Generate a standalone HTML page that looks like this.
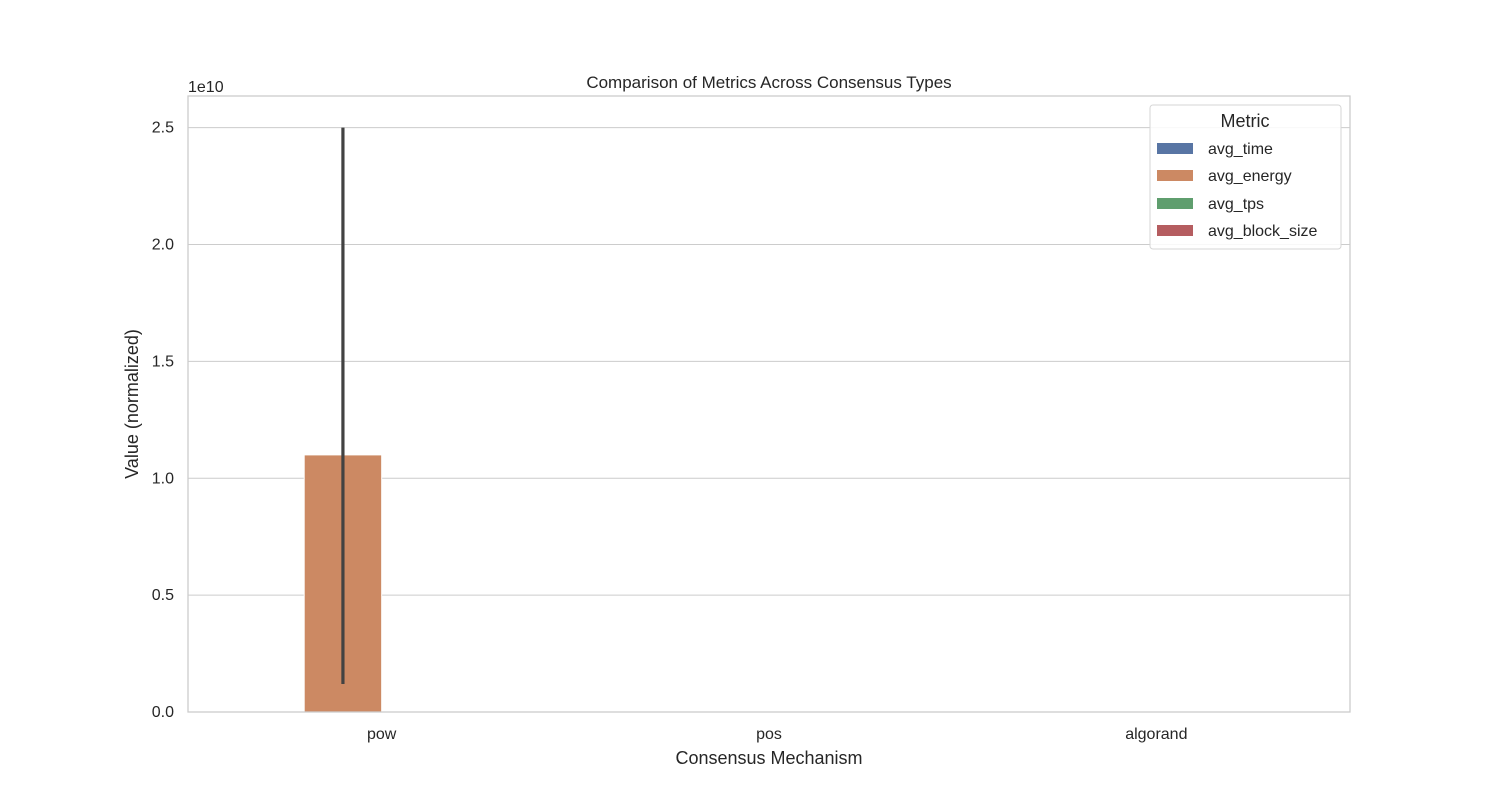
<!DOCTYPE html>
<html><head><meta charset="utf-8"><style>
body{margin:0;background:#fff;font-family:"Liberation Sans",sans-serif;}
svg text{font-family:"Liberation Sans",sans-serif;fill:#262626;}
</style></head><body>
<svg id="chart" width="1500" height="800"></svg>
<script>
const categories=["pow","pos","algorand"];
const metrics=["avg_time","avg_energy","avg_tps","avg_block_size"];
const colors=["#5875a4","#cc8963","#5f9e6e","#b55d60"];
const avgTime=[0,0,0];
const avgEnergy=[1.1e10,0,0];
const avgTps=[0,0,0];
const avgBlock=[0,0,0];
const errLow=[1.2e9,0,0];
const errHigh=[2.5e10,0,0];
const yTicks=[0,0.5e10,1.0e10,1.5e10,2.0e10,2.5e10];
const yTickLabels=["0.0","0.5","1.0","1.5","2.0","2.5"];
const series=[avgTime,avgEnergy,avgTps,avgBlock];

const NS="http://www.w3.org/2000/svg";
const svg=document.getElementById('chart');
const L=188,R=1350,T=96,B=712;
const yMax=2.6355e10;
const ys=v=>B-(v/yMax)*(B-T);
const xs=u=>L+(u+0.5)/3*(R-L);
function el(tag,attrs,parent){const e=document.createElementNS(NS,tag);for(const k in attrs)e.setAttribute(k,attrs[k]);(parent||svg).appendChild(e);return e;}

yTicks.forEach((t,i)=>{
 const g=el('line',{x1:L,x2:R,y1:ys(t),y2:ys(t),stroke:'#cccccc','stroke-width':1});
 
 
 const tx=el('text',{x:L-14,y:ys(t)+5,'text-anchor':'end','font-size':16});
 tx.textContent=yTickLabels[i];
 
 
});
categories.forEach((c,i)=>{
 const tx=el('text',{x:xs(i),y:739,'text-anchor':'middle','font-size':16});
 tx.textContent=c;
 
 
});
series.forEach((s,h)=>{
 s.forEach((v,i)=>{
  const x0=xs(i-0.4+0.2*h);const x1=xs(i-0.2+0.2*h);
  if(v<=0)return;
  const r=el('rect',{x:x0,y:ys(v),width:x1-x0,height:B-ys(v),fill:colors[h],stroke:'#fff','stroke-width':1});
  
  
 });
});
series.forEach((s,h)=>{
 s.forEach((v,i)=>{
  if(h!==1||errHigh[i]<=0)return;
  const cx=xs(i-0.3+0.2*h);
  const e=el('line',{x1:cx,x2:cx,y1:ys(errLow[i]),y2:ys(errHigh[i]),stroke:'#424242','stroke-width':3.2});
  
  
 });
});
const frame=el('rect',{x:L,y:T,width:R-L,height:B-T,fill:'none',stroke:'#cccccc','stroke-width':1.3});


</script>
<div style="position:absolute;left:0;top:0;width:1500px;height:800px;pointer-events:none">
<svg width="1500" height="800">
<text x="769" y="88" text-anchor="middle" font-size="17">Comparison of Metrics Across Consensus Types</text>
<text x="188" y="92" font-size="16">1e10</text>
<text x="769" y="764" text-anchor="middle" font-size="18">Consensus Mechanism</text>
<text transform="translate(138,404) rotate(-90)" text-anchor="middle" font-size="18">Value (normalized)</text>
<g>
<rect x="1150" y="105" width="191" height="144" rx="3" fill="#fff" fill-opacity="0.85" stroke="#d6d6d6"/>
<text x="1245" y="127" text-anchor="middle" font-size="18">Metric</text>
<rect x="1157" y="143" width="36" height="11" fill="#5875a4"/>
<text x="1208" y="154" font-size="16">avg_time</text>
<rect x="1157" y="170" width="36" height="11" fill="#cc8963"/>
<text x="1208" y="181" font-size="16">avg_energy</text>
<rect x="1157" y="198" width="36" height="11" fill="#5f9e6e"/>
<text x="1208" y="209" font-size="16">avg_tps</text>
<rect x="1157" y="225" width="36" height="11" fill="#b55d60"/>
<text x="1208" y="236" font-size="16">avg_block_size</text>
</g>
</svg></div>
</body></html>
